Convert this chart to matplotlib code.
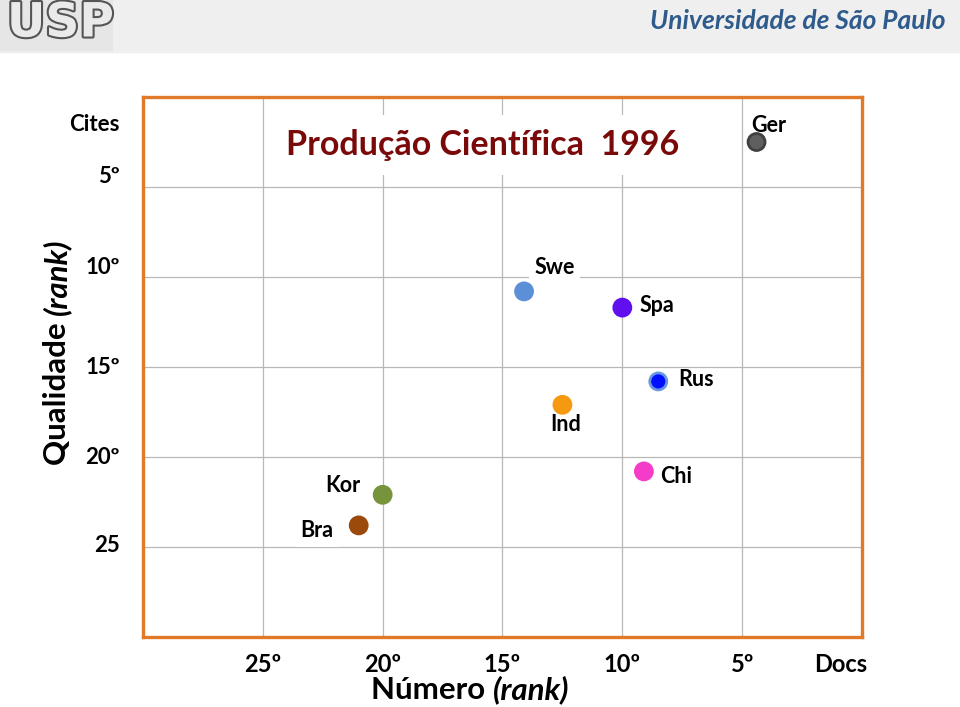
import matplotlib
matplotlib.use("Agg")
import matplotlib.pyplot as plt
import matplotlib.patheffects as pe
from matplotlib.patches import Rectangle

plt.rcParams['font.family'] = ['Lato', 'DejaVu Sans']

# dados
paises = ["Ger", "Swe", "Spa", "Rus", "Ind", "Chi", "Kor", "Bra"]
rank_numero = [4.4, 14.1, 10.0, 8.5, 12.5, 9.1, 20.0, 21.0]
rank_cites = [2.5, 10.8, 11.7, 15.8, 17.1, 20.8, 22.1, 23.8]
cores = ["#5f5f5f", "#5b8fd6", "#6010ee", "#0010ff", "#f59a10", "#f53cc8", "#77933c", "#9c4a0c"]
bordas = ["#404040", "#5b8fd6", "#6010ee", "#6a98e0", "#f59a10", "#f53cc8", "#77933c", "#9c4a0c"]
# deslocamento do rotulo (pontos)
offsets = [(9, 12), (22, 17), (25, 1.5), (27, 1.5), (2, -14), (23, -4), (-29, 7), (-30, -4)]
com_fundo = ["Swe", "Bra"]

xticks = [25, 20, 15, 10, 5]
xlabels = ["25º", "20º", "15º", "10º", "5º"]
yticks = [5, 10, 15, 20, 25]
ylabels_pos = [1.55, 4.4, 9.5, 15.0, 20.0, 24.9]
ylabels = ["Cites", "5º", "10º", "15º", "20º", "25"]

fig = plt.figure(figsize=(9.6, 7.07), dpi=100)
W, H = 960, 707

# cabecalho
fig.patches.append(Rectangle((0, 1 - 52 / H), 1, 52 / H, transform=fig.transFigure,
                             color="#efefef", zorder=0))
fig.patches.append(Rectangle((0, 1 - 50 / H), 112 / W, 50 / H, transform=fig.transFigure,
                             color="#e6e6e6", zorder=0))
logo = fig.text(7 / W, 1 - 24 / H, "USP", fontsize=34, fontweight="bold", color="#eaeaea",
                va="center", ha="left", family="DejaVu Sans")
logo.set_path_effects([pe.withStroke(linewidth=3, foreground="#555555")])
fig.text(946 / W, 1 - 21 / H, "Universidade de São Paulo", fontsize=19, fontweight="bold",
         fontstyle="italic", color="#2e5a8c", ha="right", va="center")

ax = fig.add_axes([143 / W, 1 - 637 / H, (862 - 143) / W, (637 - 97) / H])
ax.set_xlim(30, 0)
ax.set_ylim(30, 0)
for s in ax.spines.values():
    s.set_color("#e07a28")
    s.set_linewidth(2.4)
    s.set_zorder(6)
for xv in xticks:
    ax.axvline(xv, color="#b8b8b8", lw=0.9, zorder=1)
for yv in yticks:
    ax.axhline(yv, color="#b8b8b8", lw=0.9, zorder=1)
ax.set_xticks([])
ax.set_yticks([])

ax.scatter(rank_numero, rank_cites, s=150, c=cores, edgecolors=bordas, linewidths=2, zorder=4)

for nome, x, y, (dx, dy) in zip(paises, rank_numero, rank_cites, offsets):
    bb = dict(facecolor="white", edgecolor="none", pad=4) if nome in com_fundo else None
    ax.annotate(nome, (x, y), xytext=(dx, dy), textcoords="offset points", ha="center",
                va="center", fontsize=15.5, fontweight="bold", color="black", bbox=bb, zorder=3)

ax.text(0.473, 1 - (145 - 97) / (637 - 97), "Produção Científica  1996",
        transform=ax.transAxes, ha="center", va="center", fontsize=24.5, fontweight="bold",
        color="#7a0a0a", bbox=dict(facecolor="white", edgecolor="none", pad=10), zorder=2)

# rotulos dos eixos
for xv, lab in zip(xticks, xlabels):
    ax.text(xv, -(665 - 637) / (637 - 97), lab, transform=ax.get_xaxis_transform(),
            ha="center", va="center", fontsize=17, fontweight="bold")
ax.text(0.875, -28 / 540, "Docs", transform=ax.get_xaxis_transform(), ha="center", va="center",
        fontsize=17, fontweight="bold")
for yv, lab in zip(ylabels_pos, ylabels):
    ax.text(-23 / 719, yv, lab, transform=ax.get_yaxis_transform(), ha="right", va="center",
            fontsize=16, fontweight="bold")

r = fig.canvas.get_renderer()
fig.text(493 / W, 1 - 690 / H, "Número ", ha="right", va="center", fontsize=22.5,
         fontweight="bold")
fig.text(493 / W, 1 - 690 / H, "(rank)", ha="left", va="center", fontsize=22.5,
         fontweight="bold", fontstyle="italic")
t2 = fig.text(57 / W, 1 - 465 / H, "Qualidade ", rotation=90, ha="center", va="bottom",
              fontsize=22.5, fontweight="bold")
ext = t2.get_window_extent(renderer=r)
fig.text(57 / W, ext.y1 / fig.bbox.height, "(rank)", rotation=90, ha="center", va="bottom",
         fontsize=22.5, fontweight="bold", fontstyle="italic")

fig.savefig("out.png", dpi=100)
